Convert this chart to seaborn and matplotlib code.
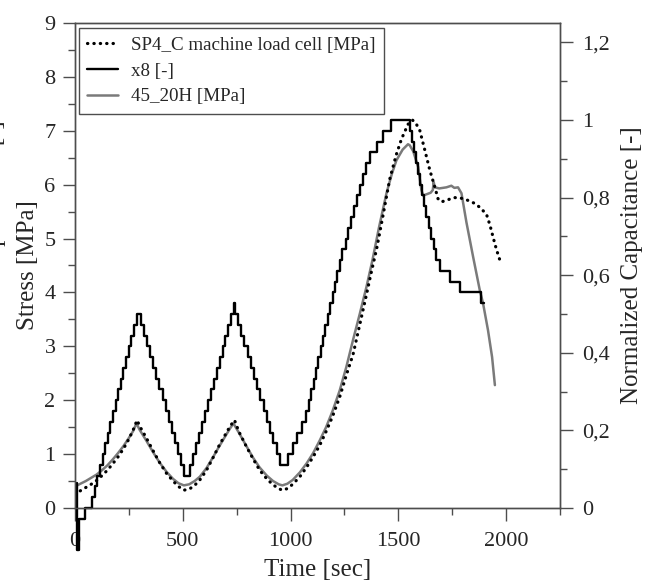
import matplotlib
matplotlib.use("Agg")
import matplotlib.pyplot as plt
from matplotlib.ticker import MultipleLocator, FuncFormatter
import pandas as pd
import seaborn as sns

# ---------------- data ----------------
# SP4_C machine load cell [MPa] (dotted, left axis)
load_time = [0, 25, 50, 75, 100, 125, 150, 175, 200, 225, 250, 270, 288,
             300, 331, 360, 393, 425, 455, 480, 504, 530,
             555, 579, 610, 640, 670, 700, 720, 740,
             760, 795, 825, 857, 890, 919, 945, 962, 985,
             1010, 1043, 1075, 1105, 1135, 1165, 1195, 1228, 1260, 1290, 1321,
             1350, 1375, 1400, 1430, 1460, 1490, 1515, 1545, 1565,
             1580, 1600, 1623, 1646, 1669, 1684, 1700, 1730, 1760, 1790, 1816,
             1850, 1878, 1909, 1925, 1940, 1955, 1975]
load_stress = [0.25, 0.32, 0.38, 0.44, 0.51, 0.60, 0.70, 0.82, 0.95, 1.10, 1.28, 1.45, 1.63,
               1.52, 1.30, 1.08, 0.84, 0.64, 0.50, 0.40, 0.33, 0.35,
               0.42, 0.52, 0.70, 0.93, 1.17, 1.38, 1.52, 1.63,
               1.42, 1.14, 0.92, 0.70, 0.54, 0.43, 0.36, 0.33, 0.36,
               0.44, 0.58, 0.76, 0.95, 1.16, 1.42, 1.70, 2.06, 2.48, 2.85, 3.40,
               3.92, 4.38, 4.82, 5.45, 6.10, 6.55, 6.85, 7.12, 7.20,
               7.15, 7.00, 6.64, 6.27, 5.96, 5.74, 5.68, 5.72, 5.76, 5.75, 5.72,
               5.66, 5.58, 5.45, 5.25, 5.02, 4.80, 4.55]

# 45_20H [MPa] (grey, left axis)
sensor_time = [0, 25, 50, 75, 100, 125, 150, 175, 200, 225, 250, 270, 285,
               300, 331, 360, 393, 425, 455, 480, 505, 530,
               555, 579, 610, 640, 670, 700, 720, 735,
               760, 795, 825, 857, 890, 919, 945, 962, 985,
               1010, 1043, 1075, 1105, 1135, 1165, 1195, 1228, 1259, 1290, 1321,
               1352, 1380, 1410, 1445, 1470, 1491, 1520, 1545,
               1553, 1569, 1592, 1607, 1615, 1630, 1650, 1660, 1664, 1669, 1690,
               1723, 1746, 1760, 1777, 1793, 1816, 1847, 1878, 1893, 1916, 1935, 1948]
sensor_stress = [0.40, 0.45, 0.50, 0.56, 0.62, 0.70, 0.79, 0.90, 1.02, 1.15, 1.30, 1.43, 1.57,
                 1.45, 1.25, 1.05, 0.84, 0.67, 0.54, 0.46, 0.42, 0.44,
                 0.50, 0.58, 0.74, 0.94, 1.15, 1.35, 1.48, 1.57,
                 1.40, 1.15, 0.94, 0.75, 0.60, 0.50, 0.44, 0.42, 0.45,
                 0.52, 0.66, 0.83, 1.02, 1.25, 1.50, 1.80, 2.18, 2.62, 3.12, 3.60,
                 4.10, 4.60, 5.20, 5.84, 6.20, 6.45, 6.65, 6.75,
                 6.73, 6.62, 6.33, 5.90, 5.80, 5.82, 5.85, 5.90, 6.05, 5.95, 5.93,
                 5.95, 5.98, 5.94, 5.95, 5.84, 5.30, 4.66, 4.04, 3.80, 3.30, 2.80, 2.28]

# x8 [-] (black staircase, right axis: normalized capacitance)
x8_time = [8, 10, 20, 45,
           80, 92, 104, 116, 128, 140, 152, 164, 177, 189, 201, 213, 225, 237, 249, 261, 273, 288,
           308, 322, 336, 350, 364, 378, 392, 406, 420, 434, 448, 462, 476, 490, 504,
           532, 546, 560, 574, 587, 601, 615, 629, 643, 657, 671, 685, 698, 712, 726,
           738, 742,
           756, 771, 786, 801, 816, 831, 846, 860, 875, 890, 905, 920, 935, 950,
           988, 1010, 1031, 1053, 1074, 1085, 1096, 1107, 1118, 1129, 1140, 1151, 1162, 1173,
           1184, 1195, 1206, 1217, 1228, 1241, 1255, 1268, 1281, 1294, 1308, 1321, 1337, 1352,
           1368, 1399, 1430, 1468,
           1553, 1562, 1575, 1584, 1592, 1600, 1610, 1620, 1630, 1642, 1652, 1664, 1677, 1692,
           1739, 1785, 1884, 1897]
x8_value = [0.064, -0.108, -0.028, 0.000,
            0.028, 0.056, 0.083, 0.111, 0.139, 0.167, 0.194, 0.222, 0.250, 0.278, 0.306, 0.333,
            0.361, 0.389, 0.417, 0.444, 0.472, 0.500,
            0.472, 0.444, 0.417, 0.389, 0.361, 0.333, 0.306, 0.278, 0.250, 0.222, 0.194, 0.167,
            0.139, 0.111, 0.083,
            0.111, 0.139, 0.167, 0.194, 0.222, 0.250, 0.278, 0.306, 0.333, 0.361, 0.389, 0.417,
            0.444, 0.472, 0.500,
            0.528, 0.500,
            0.472, 0.444, 0.417, 0.389, 0.361, 0.333, 0.306, 0.278, 0.250, 0.222, 0.194, 0.167,
            0.139, 0.111,
            0.139, 0.167, 0.194, 0.222, 0.250, 0.278, 0.306, 0.333, 0.361, 0.389, 0.417, 0.444,
            0.472, 0.500, 0.528, 0.556, 0.583, 0.611, 0.639, 0.667, 0.694, 0.722, 0.750, 0.778,
            0.806, 0.833, 0.861, 0.889, 0.917, 0.944, 0.972, 1.000,
            0.972, 0.944, 0.917, 0.889, 0.861, 0.833, 0.806, 0.778, 0.750, 0.722, 0.694, 0.667,
            0.639, 0.611, 0.583, 0.556, 0.528, 0.528]

labels = ["SP4_C machine load cell [MPa]", "x8 [-]", "45_20H [MPa]"]
x_ticks = [0, 500, 1000, 1500, 2000]

# ---------------- style ----------------
sns.set_style("ticks")
plt.rcParams["font.family"] = ["Liberation Serif", "DejaVu Serif"]
spine_col = "#4d4d4d"

fig = plt.figure(figsize=(6.51, 5.86), dpi=100)
ax = fig.add_axes([0.1152, 0.1331, 0.7450, 0.8277])
ax2 = ax.twinx()

load_df = pd.DataFrame({"t": load_time, "s": load_stress})
sensor_df = pd.DataFrame({"t": sensor_time, "s": sensor_stress})
x8_df = pd.DataFrame({"t": x8_time, "v": x8_value})

sns.lineplot(data=sensor_df, x="t", y="s", ax=ax, color="#7a7a7a", lw=1.8,
             estimator=None, sort=False, label=labels[2], legend=False, zorder=2)
sns.lineplot(data=load_df, x="t", y="s", ax=ax, color="black", lw=2.3,
             linestyle=(0, (0.1, 1.9)), dash_capstyle="round",
             estimator=None, sort=False, label=labels[0], legend=False, zorder=3)
sns.lineplot(data=x8_df, x="t", y="v", ax=ax2, color="black", lw=1.7,
             drawstyle="steps-post", estimator=None, sort=False,
             label=labels[1], legend=False, clip_on=False)

# axes limits & ticks
ax.set_xlim(0, 2250)
ax.set_ylim(0, 9)
ax2.set_ylim(0, 1.25)
ax.set_xticks(x_ticks)
ax.xaxis.set_minor_locator(MultipleLocator(250))
ax.yaxis.set_major_locator(MultipleLocator(1))
ax.yaxis.set_minor_locator(MultipleLocator(0.5))
ax2.yaxis.set_major_locator(MultipleLocator(0.2))
ax2.yaxis.set_minor_locator(MultipleLocator(0.1))
ax2.yaxis.set_major_formatter(FuncFormatter(lambda v, p: f"{v:g}".replace(".", ",")))

for a in (ax, ax2):
    for sp in a.spines.values():
        sp.set_color(spine_col)
        sp.set_linewidth(1.0)
    a.tick_params(which="major", length=9, width=1.0, color=spine_col, labelsize=16, pad=5)
    a.tick_params(which="minor", length=5, width=1.0, color=spine_col)
ax.tick_params(axis="x", pad=8)
ax2.tick_params(axis="y", pad=7)

ax.set_xlabel("Time [sec]", fontsize=18, labelpad=6)
ax.set_ylabel("Stress [MPa]", fontsize=18, labelpad=4)
ax2.set_ylabel("Normalized Capacitance [-]", fontsize=18, labelpad=8)

# label sitting almost entirely beyond the left edge, as in the reference
fig.text(1 / 651, 1 - 120 / 586, "Normalized Capacitance [-]", rotation=90,
         rotation_mode="anchor", ha="right", va="baseline", fontsize=18)

# legend (dotted, black, grey)
h1, l1 = ax.get_legend_handles_labels()
h2, l2 = ax2.get_legend_handles_labels()
hmap = dict(zip(l1 + l2, h1 + h2))
leg = ax2.legend([hmap[l] for l in labels], labels, loc="upper left",
                 bbox_to_anchor=(0.008, 0.99), borderaxespad=0, fontsize=13.7,
                 frameon=True, fancybox=False, edgecolor=spine_col, framealpha=1,
                 handlelength=1.6, handletextpad=0.7, labelspacing=0.45, borderpad=0.45)
leg.get_frame().set_linewidth(1.0)

fig.savefig("out.png", dpi=100)
